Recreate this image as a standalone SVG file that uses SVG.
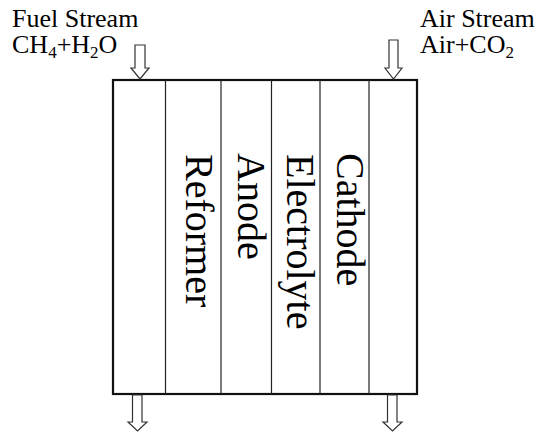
<svg xmlns="http://www.w3.org/2000/svg" width="546" height="433" viewBox="0 0 546 433">
<style>
.t{font-family:"Liberation Serif","Times New Roman",serif;font-size:26px;fill:#000}
.sub{font-size:17px}
.big{font-family:"Liberation Serif","Times New Roman",serif;font-size:40px;fill:#000}
.arr{fill:#fff;stroke:#333;stroke-width:1.2}
.div{stroke:#222;stroke-width:1.2}
</style>
<rect width="546" height="433" fill="#fff"/>
<g id="labels">
<text class="t" x="12" y="27">Fuel Stream</text>
<text class="t" x="12" y="53">CH<tspan class="sub" dy="5">4</tspan><tspan dy="-5">+H</tspan><tspan class="sub" dy="5">2</tspan><tspan dy="-5">O</tspan></text>
<text class="t" x="420" y="27">Air Stream</text>
<text class="t" x="420" y="53">Air+CO<tspan class="sub" dy="5">2</tspan></text>
</g>
<g id="stack">
<rect x="113" y="80" width="304" height="314" fill="#fff" stroke="#111" stroke-width="2.2"/>
<line class="div" x1="165.5" y1="80" x2="165.5" y2="394"/>
<line class="div" x1="221" y1="80" x2="221" y2="394"/>
<line class="div" x1="271.5" y1="80" x2="271.5" y2="394"/>
<line class="div" x1="320" y1="80" x2="320" y2="394"/>
<line class="div" x1="369" y1="80" x2="369" y2="394"/>
</g>
<g id="reformer"><text class="big" transform="translate(186,154) rotate(90)">Reformer</text></g>
<g id="anode"><text class="big" transform="translate(238,153) rotate(90)">Anode</text></g>
<g id="electrolyte"><text class="big" transform="translate(287,154) rotate(90)">Electrolyte</text></g>
<g id="cathode"><text class="big" transform="translate(337,153) rotate(90)">Cathode</text></g>
<g id="connectors">
<path class="arr" d="M135,45 H145 V68 H149 L140,79 L131,68 H135 Z"/>
<path class="arr" d="M389,40 H398 V68 H402 L393.5,79 L385,68 H389 Z"/>
<path class="arr" d="M132.5,395 H142 V422 H147 L137.5,431 L128,422 H132.5 Z"/>
<path class="arr" d="M387.5,395 H397 V422 H402 L392.5,431 L383,422 H387.5 Z"/>
</g>
</svg>
